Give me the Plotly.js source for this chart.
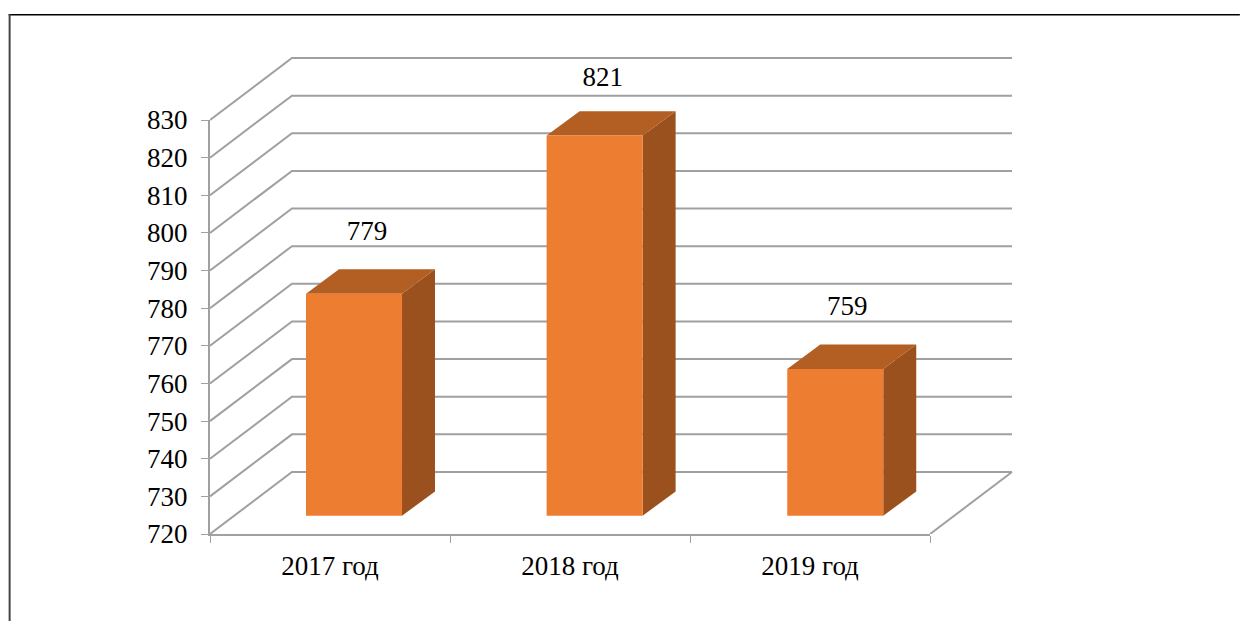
<!DOCTYPE html>
<html>
<head>
<meta charset="utf-8">
<script src="https://cdn.plot.ly/plotly-3.0.1.min.js"></script>
<style>html,body{margin:0;padding:0;background:#fff;overflow:hidden}</style>
</head>
<body>
<div id="chart" style="width:1240px;height:621px"></div>
<script>
const categories = ['2017 год', '2018 год', '2019 год'];
const values = [779, 821, 759];
const yTicks = [720, 730, 740, 750, 760, 770, 780, 790, 800, 810, 820, 830];
const labelDX = [0.054, 0.034, 0.05];
const labelDY = [21, 19.7, 21];

const W = 1240, H = 621, L = 209.5, R = 1013, T = 57, B = 534;
const pxX = 240.17, pxY = 414 / 110;
const wallDX = 82 / pxX, wallDY = 62 / pxY;
const barFrontDX = 0.1, barFrontDY = 18.3 / pxY, barHalf = 0.2, barStep = 1.0025;
const barDX = 33 / pxX, barDY = 24.3 / pxY;
const floorVal = yTicks[0], nCat = categories.length;

const gx = [], gy = [];
yTicks.forEach(t => { gx.push(0, wallDX, nCat + wallDX, null); gy.push(t, t + wallDY, t + wallDY, null); });
gx.push(nCat, nCat + wallDX, null); gy.push(floorVal, floorVal + wallDY, null);

const fx = [], fy = [], sx = [], sy = [], tx = [], ty = [], lx = [], ly = [];
values.forEach((v, i) => {
  const c = i * barStep + 0.5 + barFrontDX;
  const x0 = c - barHalf, x1 = c + barHalf;
  const y0 = floorVal + barFrontDY, y1 = v + barFrontDY;
  fx.push(x0, x1, x1, x0, x0, null); fy.push(y0, y0, y1, y1, y0, null);
  sx.push(x1, x1 + barDX, x1 + barDX, x1, x1, null); sy.push(y0, y0 + barDY, y1 + barDY, y1, y0, null);
  tx.push(x0, x1, x1 + barDX, x0 + barDX, x0, null); ty.push(y1, y1, y1 + barDY, y1 + barDY, y1, null);
  lx.push(c + labelDX[i]); ly.push(v + labelDY[i]);
});

const poly = (x, y, color) => ({ x, y, xaxis: 'x2', yaxis: 'y2', mode: 'lines', fill: 'toself', fillcolor: color,
  line: { width: 0, color }, hoverinfo: 'skip', showlegend: false, cliponaxis: false });
const anchorTrace = (xaxis) => ({ x: categories.map((c, i) => i + 0.5), y: values, xaxis, yaxis: 'y', mode: 'markers',
  marker: { opacity: 0, size: 1 }, hoverinfo: 'skip', showlegend: false });

const data = [
  anchorTrace('x'),
  anchorTrace('x3'),
  { x: gx, y: gy, xaxis: 'x2', yaxis: 'y2', mode: 'lines', line: { color: '#A0A0A0', width: 2 }, hoverinfo: 'skip', showlegend: false, cliponaxis: false, connectgaps: false },
  poly(sx, sy, '#9A511D'),
  poly(tx, ty, '#B35F24'),
  poly(fx, fy, '#ED7D31'),
  { x: lx, y: ly, text: values.map(String), xaxis: 'x2', yaxis: 'y2', mode: 'text', textposition: 'middle center',
    textfont: { family: 'Liberation Serif', size: 27, color: '#000' }, hoverinfo: 'skip', showlegend: false, cliponaxis: false }
];

const plotW = R - L, plotH = B - T;
const px = v => (v - L) / plotW, py = v => (B - v) / plotH;
const axisFont = { family: 'Liberation Serif', size: 27, color: '#000' };
const domX = [0, nCat * pxX / plotW], domY = [0, (yTicks[yTicks.length - 1] - floorVal) * pxY / plotH];

const layout = {
  width: W, height: H, paper_bgcolor: '#fff', plot_bgcolor: 'rgba(0,0,0,0)', showlegend: false,
  margin: { l: L, r: W - R, t: T, b: H - B, pad: 0 },
  xaxis: { domain: domX, range: [0, nCat], tickmode: 'array', tickvals: [0, 1, 2, 3], ticktext: ['', '', '', ''],
    showgrid: false, zeroline: false, showline: true, linecolor: '#A0A0A0', linewidth: 2, ticks: 'outside', ticklen: 7, tickwidth: 1, tickcolor: '#A0A0A0', anchor: 'y' },
  yaxis: { domain: domY, range: [floorVal, yTicks[yTicks.length - 1]], tickmode: 'array', tickvals: yTicks, ticktext: yTicks.map(String),
    showgrid: false, zeroline: false, showline: true, linecolor: '#A0A0A0', linewidth: 2, ticks: 'outside', ticklen: 7, tickwidth: 1, tickcolor: '#A0A0A0',
    tickfont: axisFont, ticklabelstandoff: 8, anchor: 'x' },
  xaxis2: { domain: [0, 1], range: [0, plotW / pxX], visible: false, anchor: 'y2', fixedrange: true },
  yaxis2: { domain: [0, 1], range: [floorVal, floorVal + plotH / pxY], visible: false, anchor: 'x2', fixedrange: true },
  xaxis3: { domain: domX, range: [0, nCat], overlaying: 'x', anchor: 'y', tickmode: 'array',
    tickvals: categories.map((c, i) => i + 0.5), ticktext: categories, ticks: '', showgrid: false, zeroline: false, showline: false,
    tickfont: axisFont, ticklabelstandoff: 13 },
  shapes: [
    { type: 'line', xref: 'paper', yref: 'paper', x0: px(8), x1: px(W), y0: py(14.8), y1: py(14.8), line: { color: '#000', width: 1.6 } },
    { type: 'line', xref: 'paper', yref: 'paper', x0: px(9), x1: px(9), y0: py(14), y1: py(H), line: { color: '#444', width: 2 } }
  ]
};
Plotly.newPlot('chart', data, layout, { staticPlot: true, displayModeBar: false });
</script>
</body>
</html>
